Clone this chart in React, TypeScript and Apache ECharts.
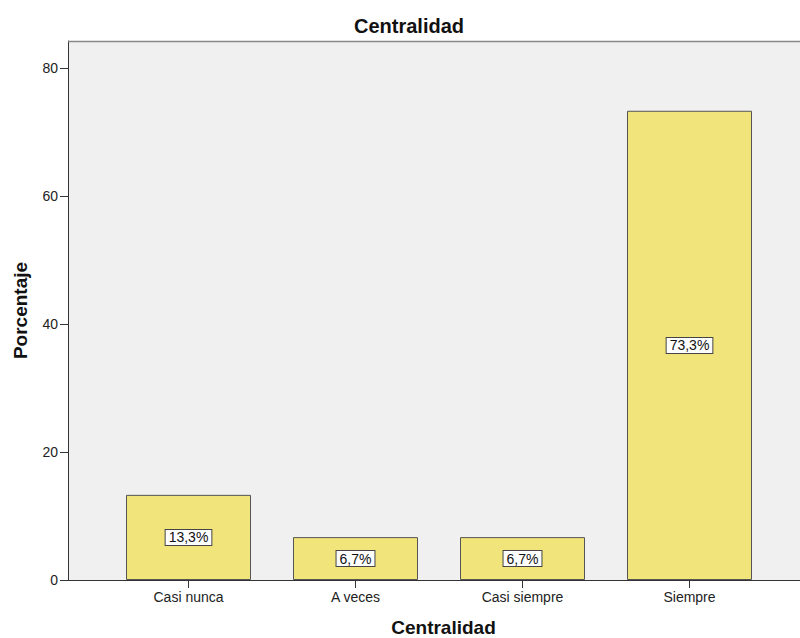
import React, { useEffect, useRef } from "react";
import * as echarts from "echarts";

const categories = ["Casi nunca", "A veces", "Casi siempre", "Siempre"];
const values = [13.3, 6.7, 6.7, 73.3];
const yTicks = [0, 20, 40, 60, 80];
const labels = ["13,3%", "6,7%", "6,7%", "73,3%"];

const FONT = "Arial, 'Liberation Sans', sans-serif";

export default function App() {
  const ref = useRef<HTMLDivElement>(null);
  useEffect(() => {
    const chart = echarts.init(ref.current!, null, { renderer: "svg" });
    chart.setOption({
      animation: false,
      textStyle: { fontFamily: FONT },
      title: {
        text: "Centralidad",
        left: 349,
        top: 11,
        textStyle: { fontFamily: FONT, fontSize: 20, fontWeight: "bold", color: "#111" },
      },
      graphic: [
        {
          type: "rect",
          z: -10,
          silent: true,
          shape: { x: 68, y: 41, width: 732, height: 539 },
          style: { fill: "#f0f0f0", stroke: null },
        },
        {
          type: "line",
          z: 10,
          shape: { x1: 68, y1: 41.5, x2: 800, y2: 41.5 },
          style: { stroke: "#888", lineWidth: 1.5 },
        },
        {
          type: "line",
          z: 10,
          shape: { x1: 68, y1: 580.5, x2: 800, y2: 580.5 },
          style: { stroke: "#333", lineWidth: 1 },
        },
      ],
      grid: {
        left: 105,
        right: 27,
        top: 41,
        bottom: 58,
        containLabel: false,
        outerBoundsMode: "none",
      },
      xAxis: {
        type: "category",
        data: categories,
        axisLine: { show: false },
        axisTick: { show: true, alignWithLabel: true, length: 8, lineStyle: { color: "#333" } },
        axisLabel: { color: "#222", fontSize: 14, fontFamily: FONT, margin: 10 },
        name: "Centralidad",
        nameLocation: "middle",
        nameGap: 38,
        nameTextStyle: {
          fontSize: 19,
          fontWeight: "bold",
          color: "#111",
          fontFamily: FONT,
          padding: [0, 0, 0, 9],
        },
      },
      yAxis: {
        type: "value",
        min: 0,
        max: 84.2,
        offset: 37,
        splitLine: { show: false },
        axisLine: { show: true, lineStyle: { color: "#333" } },
        axisTick: { show: true, length: 8, customValues: yTicks, lineStyle: { color: "#333" } },
        axisLabel: { color: "#222", fontSize: 14, fontFamily: FONT, margin: 10, customValues: yTicks },
        name: "Porcentaje",
        nameLocation: "middle",
        nameGap: 38,
        nameRotate: 90,
        nameTextStyle: { fontSize: 19, fontWeight: "bold", color: "#111", fontFamily: FONT },
      },
      series: [
        {
          type: "bar",
          data: values,
          barWidth: 125,
          itemStyle: { color: "#f0e47a", borderColor: "#555", borderWidth: 1 },
          label: {
            show: true,
            position: "inside",
            formatter: (p: any) => labels[p.dataIndex],
            color: "#111",
            fontSize: 14,
            lineHeight: 14,
            fontFamily: FONT,
            backgroundColor: "#fff",
            borderColor: "#444",
            borderWidth: 1,
            padding: [1, 3, 0, 3],
          },
        },
      ],
    });
    return () => chart.dispose();
  }, []);
  return (
    <div
      ref={ref}
      style={{ position: "absolute", left: 0, top: 0, width: 800, height: 638, background: "#fff" }}
    />
  );
}
